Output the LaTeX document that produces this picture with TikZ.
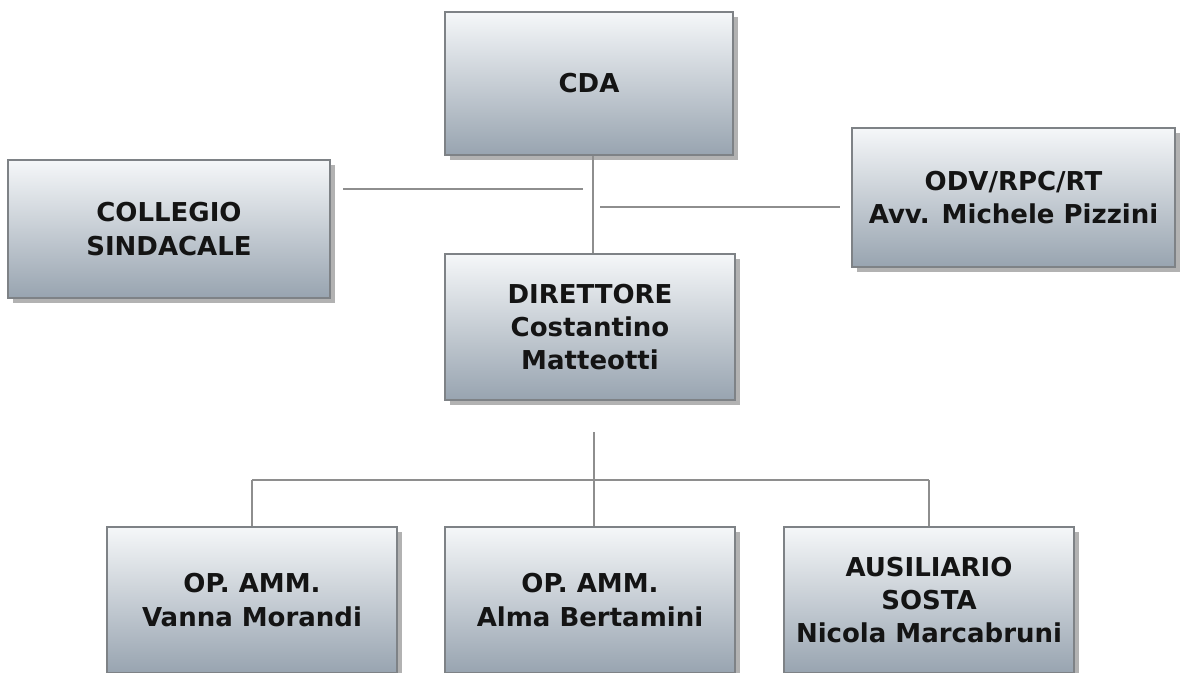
\documentclass[tikz,border=0pt]{standalone}
\usepackage{fontspec}
\setmainfont{DejaVu Sans}
\usetikzlibrary{shadows}
\definecolor{boxtop}{HTML}{F5F7F9}
\definecolor{boxbot}{HTML}{98A4B0}
\definecolor{edgecol}{HTML}{7E8286}
\definecolor{conncol}{HTML}{8E8E8E}
\begin{document}
\begin{tikzpicture}[x=0.75pt,y=-0.75pt,
  orgbox/.style={draw=edgecol, line width=1pt, top color=boxtop, bottom color=boxbot,
    align=center, font=\bfseries\fontsize{19.5}{25}\selectfont, text=black!92,
    inner sep=0pt,
    drop shadow={shadow xshift=4pt, shadow yshift=-4pt, fill=black, opacity=0.3}},
  conn/.style={draw=conncol, line width=2.2pt}]
\useasboundingbox (0,0) rectangle (1180,673);

\node[orgbox, minimum width=288*0.75pt, minimum height=143*0.75pt] (cda) at (589,83.5) {CDA};
\node[orgbox, minimum width=322*0.75pt, minimum height=138*0.75pt] (col) at (169,229) {COLLEGIO\\SINDACALE};
\node[orgbox, minimum width=323*0.75pt, minimum height=139*0.75pt] (odv) at (1013.5,197.5) {ODV/RPC/RT\\Avv. Michele Pizzini};
\node[orgbox, minimum width=290*0.75pt, minimum height=146*0.75pt] (dir) at (590,327) {DIRETTORE\\Costantino\\Matteotti};
\node[orgbox, minimum width=290*0.75pt, minimum height=146*0.75pt] (op1) at (252,600) {OP. AMM.\\Vanna Morandi};
\node[orgbox, minimum width=290*0.75pt, minimum height=146*0.75pt] (op2) at (590,600) {OP. AMM.\\Alma Bertamini};
\node[orgbox, minimum width=290*0.75pt, minimum height=146*0.75pt] (aus) at (929,600) {AUSILIARIO\\SOSTA\\Nicola Marcabruni};

\coordinate (spine) at (593,0);
\coordinate (la) at (343,189);
\coordinate (lb) at (583,189);
\coordinate (ra) at (600,207);
\coordinate (rb) at (840,207);
\coordinate (dtop) at (594,432);
\coordinate (hub) at (594,480);
\coordinate (hl) at (252,480);
\coordinate (hr) at (929,480);

\draw[conn] (spine |- cda.south) -- (spine |- dir.north);
\draw[conn] (la) -- (lb);
\draw[conn] (ra) -- (rb);
\draw[conn] (dtop) -- (hub);
\draw[conn] (hl) -- (hr);
\draw[conn] (hl) -- (op1.north);
\draw[conn] (hub) -- (hub |- op2.north);
\draw[conn] (hr) -- (aus.north);
\end{tikzpicture}
\end{document}
